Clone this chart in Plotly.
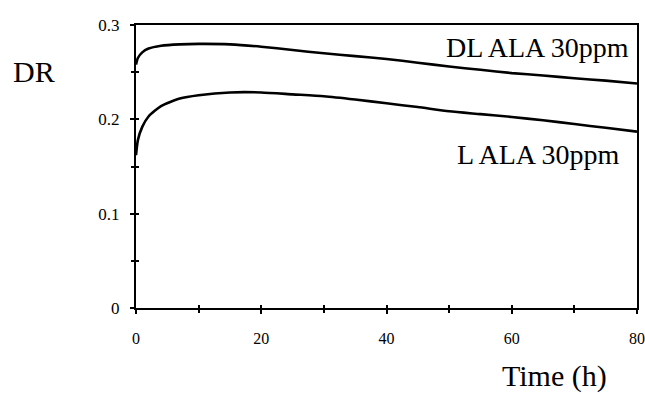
import plotly.graph_objects as go

time_h = [0, 0.3, 1, 2, 4, 7, 10, 15, 20, 25, 30, 35, 40, 45, 50, 55, 60, 65, 70, 75, 80]
dl_ala = [0.258, 0.265, 0.271, 0.275, 0.278, 0.2795, 0.280, 0.2795, 0.277, 0.2735, 0.270,
          0.267, 0.264, 0.260, 0.256, 0.2525, 0.249, 0.2465, 0.2435, 0.241, 0.238]
l_ala = [0.162, 0.178, 0.192, 0.203, 0.214, 0.222, 0.2255, 0.2285, 0.2285, 0.2265, 0.2245,
         0.221, 0.217, 0.213, 0.2085, 0.2055, 0.2025, 0.199, 0.195, 0.191, 0.187]

x_ticks = [0, 20, 40, 60, 80]
x_ticklabels = ["0", "20", "40", "60", "80"]
y_ticks = [0, 0.1, 0.2, 0.3]
y_ticklabels = ["0", "0.1", "0.2", "0.3"]

series_names = ["DL ALA 30ppm", "L ALA 30ppm"]
axis_titles = ["Time (h)", "DR"]

FONT = "Liberation Serif, Times New Roman, serif"

fig = go.Figure()
for name, vals in zip(series_names, [dl_ala, l_ala]):
    fig.add_trace(go.Scatter(x=time_h, y=vals, mode="lines", name=name,
                             line=dict(color="black", width=2.6, shape="spline", smoothing=0.6),
                             showlegend=False))
# invisible trace for overlay axes (crossing ticks)
fig.add_trace(go.Scatter(x=[0], y=[0], xaxis="x2", yaxis="y2", mode="markers",
                         marker=dict(opacity=0), showlegend=False, hoverinfo="skip"))

fig.update_layout(
    width=645, height=394,
    margin=dict(l=136, r=8, t=25, b=86),
    paper_bgcolor="white", plot_bgcolor="white",
    font=dict(family=FONT, color="black"),
    xaxis=dict(range=[0, 80], tickvals=x_ticks, ticktext=x_ticklabels,
               showgrid=False, zeroline=False, showline=True, linecolor="black", linewidth=2,
               mirror=True, ticks="outside", ticklen=4, tickwidth=2, tickcolor="black",
               minor=dict(dtick=10, ticks="outside", ticklen=3, tickwidth=1.5, tickcolor="black"),
               tickfont=dict(size=16, family=FONT, color="black"), ticklabelstandoff=11,
               automargin=False),
    yaxis=dict(range=[0, 0.3], tickvals=y_ticks, ticktext=y_ticklabels,
               showgrid=False, zeroline=False, showline=True, linecolor="black", linewidth=2,
               mirror=True, ticks="outside", ticklen=4, tickwidth=2, tickcolor="black",
               minor=dict(dtick=0.05, ticks="outside", ticklen=3, tickwidth=1.5, tickcolor="black"),
               tickfont=dict(size=17, family=FONT, color="black"), ticklabelstandoff=7,
               automargin=False),
    xaxis2=dict(range=[0, 80], overlaying="x", showgrid=False, zeroline=False, showline=False,
                tickvals=[0, 10, 20, 30, 40, 50, 60, 70, 80], ticks="inside", ticklen=3,
                tickwidth=2, tickcolor="black", showticklabels=False, automargin=False),
    yaxis2=dict(range=[0, 0.3], overlaying="y", showgrid=False, zeroline=False, showline=False,
                tickvals=[0, 0.05, 0.1, 0.15, 0.2, 0.25, 0.3], ticks="inside", ticklen=3,
                tickwidth=2, tickcolor="black", showticklabels=False, automargin=False),
)

fig.add_annotation(text=series_names[0], xref="paper", yref="paper", x=0.988, y=0.922,
                   xanchor="right", yanchor="middle", showarrow=False,
                   font=dict(size=28, family=FONT, color="black"))
fig.add_annotation(text=series_names[1], xref="paper", yref="paper", x=0.970, y=0.541,
                   xanchor="right", yanchor="middle", showarrow=False,
                   font=dict(size=28, family=FONT, color="black"))
fig.add_annotation(text=axis_titles[1], xref="paper", yref="paper", x=-0.204, y=0.834,
                   xanchor="center", yanchor="middle", showarrow=False,
                   font=dict(size=30, family=FONT, color="black"))
fig.add_annotation(text=axis_titles[0], xref="paper", yref="paper", x=0.836, y=-0.24,
                   xanchor="center", yanchor="middle", showarrow=False,
                   font=dict(size=30, family=FONT, color="black"))

fig.write_html("out.html", config={"displayModeBar": False},
               post_script="document.body.style.margin='0';document.body.style.overflow='hidden';")
